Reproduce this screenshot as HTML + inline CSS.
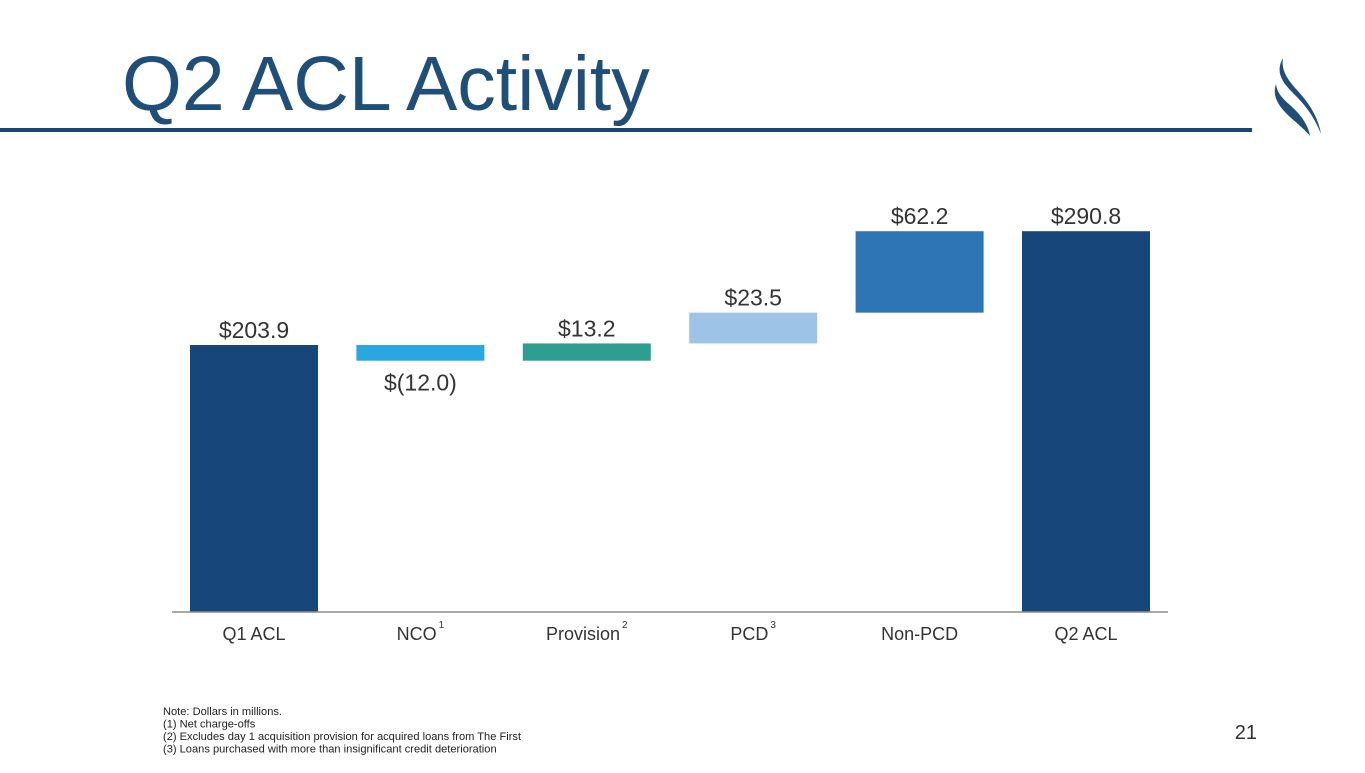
<!DOCTYPE html>
<html><head><meta charset="utf-8"><style>
html,body{margin:0;padding:0;background:#fff;}
body{width:1365px;height:768px;overflow:hidden;position:relative;font-family:"Liberation Sans",Arial,sans-serif;}
</style></head><body>
<svg id="chart" width="1365" height="768" viewBox="0 0 1365 768" xmlns="http://www.w3.org/2000/svg" font-family="Liberation Sans, Arial, sans-serif">
<text x="122" y="110" font-size="77" fill="#1f4e79">Q2 ACL Activity</text>
<rect x="0" y="128" width="1252" height="4" fill="#17477a"/>
<g fill="#1f4e79">
<path d="M1283 58 C1276 70,1280 80,1292 92 C1304 104,1313 114,1321 134 C1318 116,1308 102,1297 90 C1287 79,1281 70,1283 58 Z"/>
<path d="M1276 84 C1272 96,1278 106,1290 117 C1299 125,1305 130,1310 136 C1308 124,1300 114,1291 106 C1282 98,1277 93,1276 84 Z"/>
</g>
<g id="bars"></g>
<line x1="172" y1="612" x2="1168" y2="612" stroke="#8c8c8c" stroke-width="1.5"/>
<g font-size="11.1" fill="#222">
<text x="163" y="715">Note: Dollars in millions.</text>
<text x="163" y="727.5">(1) Net charge-offs</text>
<text x="163" y="740">(2) Excludes day 1 acquisition provision for acquired loans from The First</text>
<text x="163" y="752.5">(3) Loans purchased with more than insignificant credit deterioration</text>
</g>
<text x="1257" y="739" font-size="20" fill="#333" text-anchor="end">21</text>
</svg>
<script>
const categories = ["Q1 ACL","NCO","Provision","PCD","Non-PCD","Q2 ACL"];
const superscripts = ["","1","2","3","",""];
const values = [203.9,-12.0,13.2,23.5,62.2,290.8];
const kinds = ["total","delta","delta","delta","delta","total"];
const valueLabels = ["$203.9","$(12.0)","$13.2","$23.5","$62.2","$290.8"];
const colors = ["#17477a","#29a8e0","#2e9e8f","#9dc3e6","#2e75b6","#17477a"];

const NS="http://www.w3.org/2000/svg";
const baseY=612, pxPerUnit=267/203.9, x0=190, step=166.4, bw=128;
const y = v => baseY - v*pxPerUnit;
const xb = i => x0 + i*step;
const g=document.getElementById('bars');
let run=0;
categories.forEach((c,i)=>{
  let lo,hi;
  if(kinds[i]==="total"){lo=0;hi=values[i];run=values[i];}
  else{const s=run;run+=values[i];lo=Math.min(s,run);hi=Math.max(s,run);}
  const r=document.createElementNS(NS,'rect');
  r.setAttribute('x',xb(i));r.setAttribute('y',y(hi));
  r.setAttribute('width',bw);r.setAttribute('height',y(lo)-y(hi));
  r.setAttribute('fill',colors[i]);
  
  
  g.appendChild(r);
  const t=document.createElementNS(NS,'text');
  t.setAttribute('x',xb(i)+bw/2);
  t.setAttribute('y',values[i]<0? y(lo)+30 : y(hi)-7);
  t.setAttribute('text-anchor','middle');t.setAttribute('font-size','23');t.setAttribute('fill','#333');
  t.textContent=valueLabels[i];
  
  
  g.appendChild(t);
  const l=document.createElementNS(NS,'text');
  l.setAttribute('x',xb(i)+bw/2);l.setAttribute('y',640);
  l.setAttribute('text-anchor','middle');l.setAttribute('font-size','18');l.setAttribute('fill','#333');
  l.textContent=c;
  if(superscripts[i]){
    const s=document.createElementNS(NS,'tspan');
    s.setAttribute('font-size','10');s.setAttribute('dy','-12');s.setAttribute('dx','2');
    s.textContent=superscripts[i];l.appendChild(s);
  }
  
  
  g.appendChild(l);
});
</script>
</body></html>
